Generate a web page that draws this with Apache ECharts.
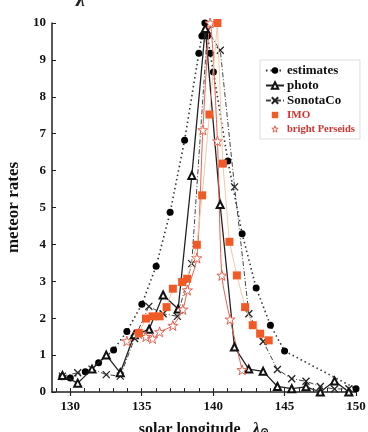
<!DOCTYPE html>
<html>
<head>
<meta charset="utf-8">
<script src="https://cdn.jsdelivr.net/npm/echarts@6/dist/echarts.min.js"></script>
<style>
  html, body { margin: 0; padding: 0; background: #fff; }
  #main { width: 368px; height: 432px; }
</style>
</head>
<body>
<div id="main"></div>
<script>
// values
var estX = [129.42, 130.0, 131.05, 131.98, 133.03, 133.96, 135.01, 136.01, 136.99, 138.0, 139.0, 139.21, 139.42, 139.6, 139.79, 140.02, 141.03, 142.03, 143.01, 144.01, 145.0, 150.0];
var estY = [0.41, 0.38, 0.55, 0.79, 1.14, 1.64, 2.38, 3.41, 4.87, 6.82, 9.18, 9.65, 10.0, 9.65, 9.18, 8.67, 6.26, 4.29, 2.82, 1.81, 1.11, 0.09];

var photoX = [129.45, 130.52, 131.52, 132.52, 133.5, 134.48, 135.52, 136.5, 137.55, 138.51, 139.45, 140.49, 141.49, 142.49, 143.5, 144.5, 145.5, 146.5, 147.5, 148.5, 149.5];
var photoY = [0.45, 0.24, 0.62, 1.0, 0.52, 1.55, 1.7, 2.63, 2.25, 5.87, 9.85, 5.08, 1.22, 0.62, 0.56, 0.15, 0.09, 0.14, 0.0, 0.3, 0.0];

var sonX = [129.45, 130.52, 131.52, 132.52, 133.5, 134.5, 135.5, 136.5, 137.5, 138.5, 139.6, 140.5, 141.5, 142.5, 143.5, 144.5, 145.5, 146.5, 147.5, 148.5, 149.5];
var sonY = [0.43, 0.52, 0.62, 0.47, 0.43, 1.45, 2.32, 2.12, 2.05, 3.48, 9.8, 9.26, 5.56, 2.12, 1.37, 0.61, 0.36, 0.29, 0.15, 0.08, 0.09];

var imoX = [134.8, 135.3, 135.76, 136.25, 136.74, 137.18, 137.83, 138.18, 138.86, 139.23, 139.74, 140.3, 140.68, 141.14, 141.66, 142.24, 142.77, 143.29, 143.89];
var imoY = [1.6, 1.99, 2.05, 2.05, 2.3, 2.8, 2.98, 3.07, 3.99, 5.33, 7.52, 10.0, 6.19, 4.07, 3.16, 2.3, 1.81, 1.58, 1.4];

var brightX = [133.96, 134.78, 135.29, 135.76, 136.25, 137.18, 137.88, 138.2, 138.86, 139.28, 139.79, 140.3, 140.61, 141.19, 142.03];
var brightY = [1.38, 1.58, 1.5, 1.45, 1.63, 1.8, 2.24, 2.76, 3.63, 7.1, 10.0, 6.8, 3.16, 1.97, 0.6];

var majorTicks = [130, 135, 140, 145, 150];
var minorTicks = [129, 130, 131, 132, 133, 134, 135, 136, 137, 138, 139, 140, 141, 142, 143, 144, 145, 146, 147, 148, 149, 150];

function pairs(xs, ys) {
  return xs.map(function (x, i) { return [x, ys[i]]; });
}

var serif = '"Liberation Serif", "DejaVu Serif", serif';
var starPath = 'path://M50,2L61,36L97,36L68,57L79,92L50,71L21,92L32,57L3,36L39,36Z';
var crossPath = 'path://M0,0L10,10M10,0L0,10';
var red = '#d2332e';
var starRed = '#e6604e';

var chart = echarts.init(document.getElementById('main'));

chart.setOption({
  animation: false,
  grid: { left: 52, right: 12, top: 23, bottom: 40, outerBoundsMode: 'none' },
  textStyle: { fontFamily: serif },
  graphic: [{
    type: 'text', left: 76, top: -9,
    style: { text: 'λ', font: 'italic bold 20px ' + serif, fill: '#222' }
  }],
  legend: {
    orient: 'vertical',
    left: 260, top: 60,
    padding: [4, 5, 4, 5],
    borderColor: '#ddd', borderWidth: 1,
    itemWidth: 18, itemHeight: 8, itemGap: 2,
    textStyle: { fontFamily: serif, fontWeight: 'bold', fontSize: 13, lineHeight: 12, color: '#111', padding: [0, 0, 0, -2] },
    data: [
      { name: 'estimates' },
      { name: 'photo' },
      { name: 'SonotaCo' },
      { name: 'IMO', lineStyle: { opacity: 0 }, textStyle: { color: red, fontSize: 11 } },
      {
        name: 'bright Perseids', lineStyle: { opacity: 0 },
        itemStyle: { color: '#fff', borderColor: starRed, borderWidth: 1 },
        textStyle: { color: red, fontSize: 10.5 }
      }
    ]
  },
  xAxis: [{
    type: 'value', min: 128.72, max: 150,
    name: 'solar longitude   {l|λ}{o|⊙}',
    nameLocation: 'middle', nameGap: 29,
    nameTextStyle: {
      fontFamily: serif, fontWeight: 'bold', fontSize: 16, color: '#111',
      rich: {
        l: { fontFamily: serif, fontStyle: 'italic', fontWeight: 'bold', fontSize: 17, color: '#111' },
        o: { fontFamily: serif, fontWeight: 'bold', fontSize: 11, color: '#111', verticalAlign: 'bottom' }
      }
    },
    splitLine: { show: false },
    axisLine: { onZero: false, lineStyle: { color: '#222', width: 1.5 } },
    axisTick: { customValues: majorTicks, length: 4, lineStyle: { color: '#222', width: 1.2 } },
    axisLabel: { customValues: majorTicks, color: '#111', fontFamily: serif, fontWeight: 'bold', fontSize: 13, margin: 8 }
  }, {
    type: 'value', min: 128.72, max: 150, position: 'bottom',
    splitLine: { show: false },
    axisLine: { show: false },
    axisTick: { customValues: minorTicks, inside: true, length: 4, lineStyle: { color: '#222', width: 1 } },
    axisLabel: { show: false }
  }],
  yAxis: {
    type: 'value', min: 0, max: 10, interval: 1,
    name: 'meteor rates',
    nameLocation: 'middle', nameGap: 29,
    nameTextStyle: { fontFamily: serif, fontWeight: 'bold', fontSize: 17, color: '#111' },
    splitLine: { show: false },
    axisLine: { show: true, lineStyle: { color: '#222', width: 1.5 } },
    axisTick: { show: true, inside: true, length: 4, lineStyle: { color: '#222' } },
    axisLabel: { color: '#111', fontFamily: serif, fontWeight: 'bold', fontSize: 13, margin: 6 }
  },
  series: [{
    name: 'estimates', type: 'line',
    data: pairs(estX, estY),
    symbol: 'circle', symbolSize: 7,
    itemStyle: { color: '#000' },
    lineStyle: { color: '#333', width: 1.6, type: [1.5, 3] },
    z: 3
  }, {
    name: 'photo', type: 'line',
    data: pairs(photoX, photoY),
    symbol: 'emptyTriangle', symbolSize: 7,
    itemStyle: { color: '#111', borderWidth: 1 },
    lineStyle: { color: '#222', width: 1.3 },
    z: 4
  }, {
    name: 'SonotaCo', type: 'line',
    data: pairs(sonX, sonY),
    symbol: crossPath, symbolSize: 7,
    itemStyle: { color: 'none', borderColor: '#222', borderWidth: 1.3 },
    lineStyle: { color: '#444', width: 1, type: [5, 2, 1, 2] },
    z: 3
  }, {
    name: 'IMO', type: 'line',
    data: pairs(imoX, imoY),
    symbol: 'rect', symbolSize: 8,
    itemStyle: { color: '#f15a24' },
    lineStyle: { color: '#f2c9a6', width: 1 },
    z: 5
  }, {
    name: 'bright Perseids', type: 'line',
    data: pairs(brightX, brightY),
    symbol: starPath, symbolSize: 10,
    smooth: 0.25,
    itemStyle: { color: '#fff', borderColor: starRed, borderWidth: 1 },
    lineStyle: { color: starRed, width: 1 },
    z: 4
  }]
});
</script>
</body>
</html>
